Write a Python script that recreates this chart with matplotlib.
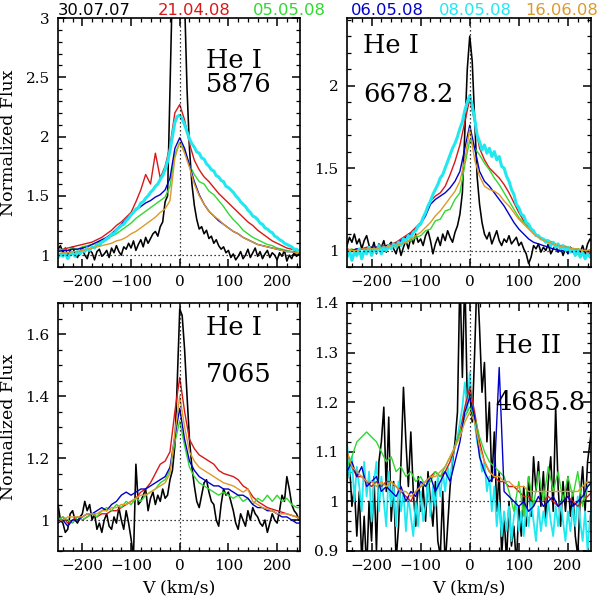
import numpy as np
import matplotlib
matplotlib.use("Agg")
import matplotlib.pyplot as plt
from matplotlib.ticker import MultipleLocator, FuncFormatter

# velocity grids (km/s): noisy spectra sampled every 5, smooth ones every 10
V5 = np.arange(-250, 251, 5)
V10 = np.arange(-250, 251, 10)

dates = ["30.07.07", "21.04.08", "05.05.08", "06.05.08", "08.05.08", "16.06.08"]
colors = ["black", "#d81818", "#30d830", "#0000c8", "#20e8f0", "#dc9a2a"]

# ---------------- He I 5876 ----------------
he5876_black = [1.05, 1.08, 1.02, 1.06, 0.99, 1.04, 1.07, 1.01, 0.98, 1.03,
                1.06, 1.00, 0.97, 1.04, 1.02, 0.96, 1.03, 1.05, 0.99, 1.01,
                1.04, 0.98, 1.06, 1.02, 1.08, 1.03, 1.00, 1.07, 1.05, 1.10,
                1.06, 1.12, 1.04, 1.09, 1.13, 1.07, 1.15, 1.10, 1.14, 1.18,
                1.20, 1.16, 1.24, 1.28, 1.45, 1.50, 2.40, 3.30, 3.60, 3.80,
                3.80, 3.60, 3.15, 2.40, 1.90, 1.60, 1.42, 1.30, 1.22, 1.24,
                1.18, 1.21, 1.14, 1.16, 1.10, 1.13, 1.08, 1.05, 1.07, 1.02,
                1.04, 0.98, 1.01, 0.96, 0.99, 1.03, 0.97, 1.00, 1.05, 0.98,
                1.02, 1.06, 0.99, 1.03, 0.97, 1.01, 1.04, 0.98, 1.02, 1.00,
                0.96, 1.02, 0.99, 1.04, 0.95, 1.00, 0.97, 1.02, 0.99, 1.01,
                1.00]
he5876_cyan = [0.98, 1.01, 0.99, 1.02, 0.97, 1.01, 1.02, 0.99, 1.03, 1.01,
               1.04, 1.03, 1.06, 1.04, 1.07, 1.06, 1.09, 1.08, 1.11, 1.12,
               1.14, 1.15, 1.18, 1.18, 1.21, 1.23, 1.25, 1.26, 1.29, 1.31,
               1.34, 1.36, 1.39, 1.40, 1.44, 1.45, 1.48, 1.50, 1.53, 1.55,
               1.58, 1.60, 1.64, 1.67, 1.72, 1.79, 1.88, 2.00, 2.12, 2.17,
               2.18, 2.15, 2.10, 2.04, 1.98, 1.94, 1.91, 1.87, 1.86, 1.82,
               1.81, 1.77, 1.75, 1.72, 1.71, 1.67, 1.66, 1.63, 1.62, 1.58,
               1.57, 1.55, 1.53, 1.50, 1.48, 1.45, 1.43, 1.41, 1.38, 1.36,
               1.33, 1.32, 1.30, 1.27, 1.26, 1.23, 1.22, 1.20, 1.19, 1.16,
               1.15, 1.13, 1.12, 1.10, 1.09, 1.08, 1.07, 1.05, 1.05, 1.03,
               1.04]
he5876_red = [1.04, 1.05, 1.06, 1.07, 1.08, 1.09, 1.10, 1.11, 1.13, 1.15,
              1.18, 1.21, 1.25, 1.28, 1.32, 1.36, 1.45, 1.55, 1.68, 1.60,
              1.86, 1.65, 1.75, 1.92, 2.20, 2.27, 2.14, 1.94, 1.80, 1.72,
              1.66, 1.62, 1.57, 1.52, 1.48, 1.44, 1.40, 1.36, 1.32, 1.28,
              1.25, 1.21, 1.18, 1.15, 1.12, 1.10, 1.08, 1.06, 1.05, 1.04,
              1.04]
he5876_green = [1.04, 1.05, 1.04, 1.06, 1.05, 1.07, 1.08, 1.09, 1.10, 1.12,
                1.13, 1.16, 1.18, 1.21, 1.24, 1.27, 1.31, 1.34, 1.37, 1.40,
                1.43, 1.46, 1.49, 1.58, 1.85, 1.95, 1.88, 1.76, 1.68, 1.62,
                1.60, 1.54, 1.51, 1.46, 1.41, 1.35, 1.30, 1.26, 1.21, 1.18,
                1.15, 1.13, 1.11, 1.09, 1.08, 1.06, 1.05, 1.04, 1.03, 1.03,
                1.02]
he5876_blue = [1.03, 1.04, 1.04, 1.05, 1.05, 1.06, 1.07, 1.09, 1.11, 1.13,
               1.15, 1.18, 1.22, 1.26, 1.30, 1.34, 1.38, 1.41, 1.44, 1.46,
               1.49, 1.51, 1.55, 1.65, 1.90, 1.99, 1.90, 1.76, 1.62, 1.51,
               1.43, 1.37, 1.33, 1.29, 1.26, 1.23, 1.20, 1.18, 1.15, 1.13,
               1.11, 1.09, 1.08, 1.07, 1.06, 1.05, 1.04, 1.03, 1.03, 1.02,
               1.02]
he5876_orange = [1.01, 1.02, 1.02, 1.03, 1.03, 1.04, 1.05, 1.06, 1.07, 1.08,
                 1.09, 1.10, 1.12, 1.13, 1.15, 1.18, 1.20, 1.23, 1.26, 1.29,
                 1.32, 1.36, 1.39, 1.46, 1.82, 1.95, 1.86, 1.74, 1.60, 1.50,
                 1.43, 1.37, 1.33, 1.30, 1.26, 1.23, 1.20, 1.18, 1.15, 1.13,
                 1.11, 1.09, 1.08, 1.07, 1.06, 1.05, 1.04, 1.03, 1.03, 1.02,
                 1.02]

# ---------------- He I 6678.2 ----------------
he6678_black = [1.03, 1.08, 1.05, 1.10, 1.04, 1.07, 1.01, 1.06, 1.09, 1.03,
                1.00, 1.05, 0.98, 1.04, 1.02, 1.06, 0.99, 1.03, 1.05, 1.01,
                0.98, 1.04, 0.97, 1.02, 1.06, 1.01, 1.08, 1.04, 1.10, 1.05,
                1.07, 1.03, 1.09, 1.12, 1.06, 0.98, 1.04, 1.08, 1.03, 1.10,
                1.06, 1.12, 1.08, 1.05, 1.11, 1.15, 1.22, 1.35, 1.72, 2.10,
                2.30, 2.15, 1.80, 1.45, 1.28, 1.17, 1.10, 1.07, 1.11, 1.04,
                1.08, 1.12, 1.06, 1.03, 1.07, 1.05, 1.09, 1.04, 1.06, 1.08,
                1.03, 1.05, 1.01, 0.98, 0.92, 0.96, 1.03, 1.01, 1.04, 0.99,
                1.02, 1.00, 1.04, 0.98, 1.01, 1.03, 0.99, 1.02, 0.97, 1.01,
                0.98, 1.02, 1.00, 0.97, 1.01, 0.99, 1.03, 0.98, 1.04, 1.07,
                1.05]
he6678_cyan = [0.96, 1.00, 0.94, 0.99, 0.97, 1.01, 0.95, 1.00, 0.98, 1.02,
               0.97, 1.01, 0.99, 1.03, 0.98, 1.02, 1.00, 1.03, 1.01, 1.04,
               1.02, 1.05, 1.03, 1.07, 1.05, 1.09, 1.08, 1.11, 1.12, 1.15,
               1.16, 1.20, 1.23, 1.27, 1.30, 1.34, 1.37, 1.40, 1.44, 1.46,
               1.50, 1.54, 1.58, 1.62, 1.65, 1.69, 1.74, 1.78, 1.85, 1.90,
               1.94, 1.88, 1.80, 1.70, 1.66, 1.61, 1.64, 1.59, 1.62, 1.57,
               1.60, 1.55, 1.57, 1.51, 1.50, 1.45, 1.42, 1.37, 1.34, 1.28,
               1.26, 1.22, 1.21, 1.17, 1.16, 1.13, 1.12, 1.09, 1.09, 1.07,
               1.07, 1.05, 1.06, 1.03, 1.05, 1.02, 1.04, 1.01, 1.03, 1.00,
               1.02, 0.99, 1.01, 0.97, 1.00, 0.96, 0.99, 0.95, 0.98, 0.96,
               0.99]
he6678_red = [1.01, 1.00, 1.01, 1.01, 1.02, 1.02, 1.02, 1.03, 1.03, 1.04,
              1.05, 1.07, 1.09, 1.11, 1.14, 1.17, 1.22, 1.30, 1.33, 1.35,
              1.39, 1.46, 1.54, 1.64, 1.78, 1.92, 1.78, 1.62, 1.55, 1.50,
              1.47, 1.44, 1.40, 1.35, 1.29, 1.23, 1.18, 1.14, 1.11, 1.08,
              1.07, 1.05, 1.04, 1.03, 1.03, 1.02, 1.01, 1.00, 1.00, 0.99,
              0.99]
he6678_green = [1.00, 1.01, 0.99, 1.01, 1.00, 1.01, 1.02, 1.01, 1.02, 1.03,
                1.02, 1.04, 1.05, 1.06, 1.08, 1.09, 1.12, 1.13, 1.18, 1.19,
                1.24, 1.25, 1.31, 1.35, 1.52, 1.67, 1.62, 1.58, 1.53, 1.49,
                1.44, 1.40, 1.35, 1.30, 1.25, 1.20, 1.17, 1.14, 1.11, 1.09,
                1.07, 1.06, 1.05, 1.03, 1.02, 1.02, 1.01, 1.01, 1.00, 1.00,
                1.01]
he6678_blue = [1.00, 1.00, 1.01, 1.01, 1.01, 1.02, 1.02, 1.02, 1.03, 1.03,
               1.04, 1.06, 1.08, 1.10, 1.13, 1.16, 1.21, 1.28, 1.31, 1.33,
               1.35, 1.38, 1.42, 1.48, 1.62, 1.76, 1.62, 1.48, 1.42, 1.39,
               1.35, 1.31, 1.27, 1.22, 1.17, 1.13, 1.10, 1.07, 1.05, 1.04,
               1.03, 1.02, 1.01, 1.00, 1.00, 0.99, 0.99, 0.98, 0.98, 0.98,
               0.98]
he6678_orange = [1.00, 1.00, 1.00, 1.01, 1.01, 1.01, 1.01, 1.02, 1.02, 1.03,
                 1.03, 1.04, 1.05, 1.07, 1.09, 1.11, 1.14, 1.17, 1.21, 1.24,
                 1.28, 1.32, 1.36, 1.42, 1.55, 1.74, 1.55, 1.45, 1.39, 1.37,
                 1.36, 1.34, 1.30, 1.27, 1.23, 1.19, 1.16, 1.13, 1.10, 1.08,
                 1.06, 1.05, 1.04, 1.03, 1.02, 1.02, 1.01, 1.01, 1.00, 1.00,
                 1.00]

# ---------------- He I 7065 ----------------
he7065_black = [1.05, 1.00, 0.99, 0.96, 0.97, 1.02, 1.03, 1.00, 0.99, 1.01,
                1.02, 1.06, 1.03, 1.05, 1.00, 1.02, 0.97, 0.99, 0.96, 1.00,
                1.02, 0.98, 0.97, 1.01, 0.99, 1.04, 1.00, 0.97, 1.03, 0.99,
                0.94, 0.88, 1.18, 1.05, 1.06, 1.08, 1.10, 1.03, 1.07, 1.09,
                1.05, 1.08, 1.06, 1.10, 1.07, 1.08, 1.13, 1.16, 1.24, 1.45,
                1.68, 1.66, 1.55, 1.40, 1.26, 1.17, 1.11, 1.06, 1.04, 1.08,
                1.12, 1.13, 1.09, 1.06, 1.05, 1.00, 0.98, 1.05, 1.10, 1.08,
                1.09, 1.06, 1.03, 0.99, 0.97, 1.02, 1.00, 0.98, 1.03, 1.00,
                1.04, 1.02, 1.01, 0.99, 0.98, 1.00, 0.96, 0.99, 1.02, 1.00,
                0.99, 1.03, 1.08, 1.06, 1.14, 1.10, 1.05, 1.03, 1.02, 1.00,
                1.01]
he7065_red = [1.00, 1.01, 0.99, 1.00, 1.01, 1.00, 1.01, 1.02, 1.01, 1.02,
              1.02, 1.03, 1.03, 1.04, 1.05, 1.06, 1.07, 1.09, 1.10, 1.12,
              1.15, 1.18, 1.19, 1.22, 1.35, 1.46, 1.35, 1.26, 1.23, 1.21,
              1.20, 1.19, 1.18, 1.16, 1.15, 1.145, 1.14, 1.13, 1.11, 1.10,
              1.075, 1.06, 1.05, 1.04, 1.035, 1.03, 1.025, 1.02, 1.015, 1.01,
              1.00]
he7065_green = [1.00, 1.01, 1.00, 0.99, 1.01, 1.00, 1.01, 1.02, 1.01, 1.03,
                1.04, 1.03, 1.05, 1.04, 1.06, 1.05, 1.07, 1.06, 1.08, 1.09,
                1.10, 1.12, 1.13, 1.16, 1.25, 1.32, 1.24, 1.17, 1.14, 1.12,
                1.11, 1.10, 1.09, 1.08, 1.09, 1.08, 1.07, 1.08, 1.06, 1.07,
                1.05, 1.07, 1.06, 1.08, 1.06, 1.08, 1.06, 1.07, 1.05, 1.04,
                1.04]
he7065_blue = [0.99, 1.00, 0.98, 1.00, 1.00, 1.01, 1.02, 1.02, 1.03, 1.04,
               1.03, 1.05, 1.06, 1.08, 1.09, 1.08, 1.09, 1.10, 1.10, 1.11,
               1.12, 1.13, 1.14, 1.17, 1.27, 1.36, 1.26, 1.19, 1.16, 1.14,
               1.13, 1.12, 1.11, 1.11, 1.10, 1.10, 1.09, 1.08, 1.08, 1.07,
               1.05, 1.04, 1.04, 1.03, 1.03, 1.02, 1.01, 1.01, 1.00, 0.99,
               0.99]
he7065_orange = [1.00, 1.00, 1.01, 1.01, 1.01, 1.01, 1.02, 1.02, 1.02, 1.03,
                 1.03, 1.04, 1.04, 1.05, 1.05, 1.06, 1.07, 1.08, 1.08, 1.09,
                 1.10, 1.11, 1.12, 1.15, 1.28, 1.40, 1.30, 1.22, 1.19, 1.17,
                 1.16, 1.15, 1.14, 1.13, 1.12, 1.115, 1.11, 1.10, 1.09, 1.10,
                 1.06, 1.05, 1.04, 1.035, 1.03, 1.02, 1.02, 1.02, 1.015, 1.01,
                 1.00]

# ---------------- He II 4685.8 ----------------
he4686_black = [1.04, 1.08, 0.99, 1.03, 0.93, 1.02, 0.88, 0.97, 0.86, 1.00,
                0.92, 1.05, 0.90, 1.08, 1.12, 1.19, 1.02, 1.17, 0.96, 1.04,
                0.88, 0.95, 1.08, 1.23, 1.12, 1.03, 1.14, 1.02, 0.95, 1.05,
                0.98, 1.03, 0.96, 1.06, 1.00, 0.95, 1.04, 0.92, 0.89, 1.02,
                0.87, 0.95, 1.03, 1.08, 1.12, 1.18, 1.46, 1.25, 1.46, 1.20,
                1.22, 1.16, 1.30, 1.46, 1.35, 1.22, 1.28, 1.12, 1.20, 1.04,
                1.14, 0.98, 1.06, 0.89, 0.97, 0.88, 1.00, 0.91, 0.95, 0.87,
                0.99, 0.93, 1.03, 0.95, 1.05, 0.97, 1.09, 1.02, 1.08, 0.99,
                1.06, 0.96, 1.04, 1.09, 0.98, 1.19, 1.03, 0.95, 1.04, 0.98,
                1.05, 0.97, 1.02, 0.93, 0.89, 1.01, 1.07, 0.98, 1.08, 1.12,
                1.16]
he4686_cyan = [1.12, 1.05, 1.09, 1.00, 1.07, 1.03, 0.98, 1.08, 1.01, 1.06,
               0.96, 1.04, 1.08, 0.98, 1.05, 1.00, 0.95, 1.06, 0.99, 1.03,
               0.95, 1.04, 0.98, 1.02, 0.94, 1.01, 0.97, 0.93, 1.00, 0.95,
               1.02, 0.96, 0.99, 1.04, 0.97, 1.03, 0.99, 1.05, 1.01, 1.06,
               1.02, 1.07, 1.04, 1.09, 1.11, 1.13, 1.16, 1.19, 1.24, 1.18,
               1.26, 1.19, 1.16, 1.12, 1.10, 1.06, 1.08, 1.02, 1.05, 0.98,
               1.03, 0.95, 1.00, 0.93, 0.98, 0.94, 0.99, 0.92, 0.97, 1.00,
               0.94, 0.98, 0.93, 0.99, 0.95, 1.00, 0.96, 0.92, 0.99, 0.94,
               0.98, 0.95, 1.00, 0.96, 0.93, 0.99, 0.95, 1.00, 0.96, 0.92,
               0.98, 0.94, 0.99, 0.95, 1.01, 0.96, 0.92, 0.98, 0.90, 0.97,
               0.99]
he4686_red = [1.10, 1.07, 1.05, 1.05, 1.04, 1.03, 1.04, 1.03, 1.04, 1.04,
              1.03, 1.02, 1.01, 1.00, 1.02, 1.03, 1.04, 1.05, 1.06, 1.05,
              1.06, 1.08, 1.11, 1.14, 1.19, 1.23, 1.18, 1.12, 1.08, 1.06,
              1.05, 1.04, 1.04, 1.03, 1.03, 1.02, 1.01, 1.01, 1.00, 1.00,
              1.00, 1.01, 1.00, 0.99, 1.00, 1.01, 1.00, 0.99, 1.00, 1.01,
              1.02]
he4686_green = [1.07, 1.09, 1.12, 1.13, 1.14, 1.13, 1.12, 1.10, 1.08, 1.09,
                1.06, 1.07, 1.05, 1.06, 1.04, 1.05, 1.03, 1.04, 1.06, 1.05,
                1.07, 1.09, 1.11, 1.14, 1.17, 1.19, 1.17, 1.13, 1.10, 1.08,
                1.07, 1.06, 1.05, 1.02, 0.98, 1.04, 0.97, 1.05, 0.99, 1.06,
                1.00, 1.07, 1.02, 1.06, 1.00, 1.05, 1.01, 1.06, 0.99, 1.03,
                1.04]
he4686_blue = [1.06, 1.08, 1.05, 1.07, 1.03, 1.04, 1.05, 1.02, 1.03, 1.02,
               1.01, 1.03, 1.00, 1.02, 1.01, 1.04, 1.03, 1.05, 1.02, 1.04,
               1.06, 1.04, 1.08, 1.12, 1.18, 1.21, 1.17, 1.09, 1.06, 1.04,
               1.05, 1.27, 1.02, 1.01, 1.00, 0.99, 1.00, 0.98, 0.99, 1.01,
               0.99, 1.00, 1.01, 0.99, 1.00, 1.01, 0.99, 1.00, 1.01, 1.03,
               1.04]
he4686_orange = [1.10, 1.07, 1.06, 1.05, 1.04, 1.04, 1.03, 1.04, 1.03, 1.04,
                 1.03, 1.02, 1.02, 1.01, 1.02, 1.03, 1.04, 1.05, 1.05, 1.06,
                 1.07, 1.09, 1.11, 1.13, 1.16, 1.18, 1.16, 1.11, 1.08, 1.06,
                 1.05, 1.05, 1.04, 1.04, 1.03, 1.03, 1.03, 1.02, 1.02, 1.02,
                 1.02, 1.02, 1.02, 1.02, 1.02, 1.02, 1.02, 1.02, 1.03, 1.04,
                 1.04]

W, H = 600, 598
XLIM = (-250, 247)

# panel layout in pixels (left, top, right, bottom) and line labels
panels = [
    dict(box=(58, 18, 300, 267), ylim=(0.9, 3.0), major=0.5, minor=0.1, cyan_lw=2.2,
         series=[(V5, he5876_black, 0), (V10, he5876_red, 1), (V10, he5876_green, 2),
                 (V10, he5876_blue, 3), (V5, he5876_cyan, 4), (V10, he5876_orange, 5)],
         text=[("He I", 206, 68), ("5876", 206, 92)], ylabel=True, xlabel=False),
    dict(box=(347, 18, 591, 267), ylim=(0.9, 2.41), major=0.5, minor=0.1, cyan_lw=2.2,
         series=[(V5, he6678_black, 0), (V10, he6678_red, 1), (V10, he6678_green, 2),
                 (V10, he6678_blue, 3), (V5, he6678_cyan, 4), (V10, he6678_orange, 5)],
         text=[("He I", 363, 53), ("6678.2", 363, 102)], ylabel=False, xlabel=False),
    dict(box=(58, 303, 300, 551), ylim=(0.9, 1.7), major=0.2, minor=0.05, cyan_lw=1.5,
         series=[(V5, he7065_black, 0), (V10, he7065_red, 1), (V10, he7065_green, 2),
                 (V10, he7065_blue, 3), (V10, he7065_orange, 5)],
         text=[("He I", 206, 335), ("7065", 206, 382)], ylabel=True, xlabel=True),
    dict(box=(347, 303, 591, 551), ylim=(0.9, 1.4), major=0.1, minor=0.02, cyan_lw=1.3,
         series=[(V5, he4686_black, 0), (V5, he4686_cyan, 4), (V10, he4686_red, 1),
                 (V10, he4686_green, 2), (V10, he4686_blue, 3), (V10, he4686_orange, 5)],
         text=[("He II", 495, 353), ("4685.8", 495, 410)], ylabel=False, xlabel=True),
]

plt.rcParams["font.family"] = "DejaVu Serif"
fig = plt.figure(figsize=(W / 100, H / 100), dpi=100)

for p in panels:
    x0, y0, x1, y1 = p["box"]
    ax = fig.add_axes([x0 / W, 1 - y1 / H, (x1 - x0) / W, (y1 - y0) / H])
    for v, f, ci in p["series"]:
        lw = 1.0
        if ci == 0:
            lw = 1.15
        elif ci == 4:
            lw = p["cyan_lw"]
        ax.plot(v, f, color=colors[ci], lw=lw)
    ax.axhline(1.0, color="black", lw=0.9, ls=(0, (1, 2.2)))
    ax.axvline(0.0, color="black", lw=0.9, ls=(0, (1, 2.2)))
    ax.set_xlim(*XLIM)
    ax.set_ylim(*p["ylim"])
    ax.xaxis.set_major_locator(MultipleLocator(100))
    ax.xaxis.set_minor_locator(MultipleLocator(20))
    ax.yaxis.set_major_locator(MultipleLocator(p["major"]))
    ax.yaxis.set_minor_locator(MultipleLocator(p["minor"]))
    ax.yaxis.set_major_formatter(FuncFormatter(lambda y, pos: "%g" % round(y, 3)))
    ax.tick_params(which="both", direction="in", top=True, right=True,
                   labelsize=11, pad=6)
    ax.tick_params(which="major", length=5.5, width=1.1)
    ax.tick_params(which="minor", length=2.7, width=0.9)
    for s in ax.spines.values():
        s.set_linewidth(1.2)
    for txt, tx, ty in p["text"]:
        fig.text(tx / W, 1 - ty / H, txt, fontsize=18.5, ha="left", va="baseline")
    if p["ylabel"]:
        fig.text(9 / W, 1 - (y0 + y1) / 2 / H, "Normalized Flux", rotation=90,
                 fontsize=12.5, ha="center", va="center")
    if p["xlabel"]:
        fig.text((x0 + x1) / 2 / W, 1 - 588 / H, "V (km/s)",
                 fontsize=12.5, ha="center", va="center")

# observation dates along the top
date_x = [94, 194, 289, 387, 475, 562]
for d, c, xp in zip(dates, colors, date_x):
    fig.text(xp / W, 1 - 15 / H, d, color=c, fontsize=11.8, family="DejaVu Sans",
             ha="center", va="baseline")

fig.savefig("out.png", dpi=100)
